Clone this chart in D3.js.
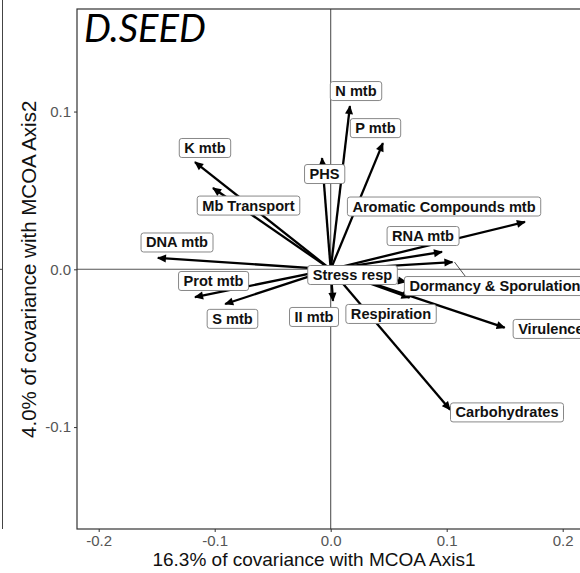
<!DOCTYPE html>
<html>
<head>
<meta charset="utf-8">
<script src="https://cdn.jsdelivr.net/npm/d3@7"></script>
<style>
  body { margin: 0; background: #fff; }
  svg { display: block; }
</style>
</head>
<body>
<div id="area"></div>
<script>
'use strict';

// variables (arrow tips, MCOA axis 1 / axis 2 covariance)
const variables = ['K mtb', 'Mb Transport', 'DNA mtb', 'Prot mtb', 'S mtb', 'II mtb',
  'Respiration', 'Carbohydrates', 'Virulence', 'Dormancy & Sporulation', 'RNA mtb',
  'Aromatic Compounds mtb', 'P mtb', 'N mtb', 'PHS', 'Stress resp'];
const axis1 = [-0.117, -0.1015, -0.149, -0.117, -0.091, 0.002,
  0.068, 0.103, 0.150, 0.105, 0.096,
  0.1675, 0.045, 0.0166, -0.0075, 0.065];
const axis2 = [0.068, 0.0515, 0.0072, -0.0176, -0.022, -0.020,
  -0.018, -0.089, -0.037, 0.0046, 0.011,
  0.030, 0.080, 0.1035, 0.0705, -0.008];

// tick labels
const xTicks = [-0.2, -0.1, 0, 0.1, 0.2];
const xTickLabels = ['-0.2', '-0.1', '0.0', '0.1', '0.2'];
const yTicks = [-0.1, 0, 0.1];
const yTickLabels = ['-0.1', '0.0', '0.1'];

const title = 'D.SEED';
const xTitle = '16.3% of covariance with MCOA Axis1';
const yTitle = '4.0% of covariance with MCOA Axis2';

// repelled label positions (data units), as placed in the original figure
const labelAt = [[-0.1084, 0.0769], [-0.0709, 0.0404], [-0.1325, 0.0170], [-0.1010, -0.0074],
  [-0.0847, -0.0314], [-0.0144, -0.0302], [0.0520, -0.0283], [0.1520, -0.0907],
  [0.1898, -0.0378], [0.1416, -0.0106], [0.0796, 0.0211], [0.0977, 0.0398],
  [0.0386, 0.0895], [0.0218, 0.1130], [-0.0053, 0.0604], [0.0188, -0.0036]];

const W = 580, H = 573;
const padL = 77, padT = 9, padB = 529;

const x = d3.scaleLinear().domain([-0.2187, 0.235]).range([padL, padL + 0.4537 * 1160]);
const y = d3.scaleLinear().domain([-0.1646, 0.165]).range([padB, padT]);

const svg = d3.select('#area').append('svg').attr('width', W).attr('height', H);

// edge of the neighbouring panel
svg.append('line').attr('x1', 2.5).attr('x2', 2.5).attr('y1', 0).attr('y2', padB)
  .attr('stroke', '#444').attr('stroke-width', 1);
svg.append('line').attr('x1', 0).attr('x2', 3).attr('y1', y(0)).attr('y2', y(0))
  .attr('stroke', '#444').attr('stroke-width', 1);

// zero lines
svg.append('line').attr('x1', x(0)).attr('x2', x(0)).attr('y1', padT).attr('y2', padB)
  .attr('stroke', '#555').attr('stroke-width', 1.1);
svg.append('line').attr('x1', padL).attr('x2', W + 20).attr('y1', y(0)).attr('y2', y(0))
  .attr('stroke', '#555').attr('stroke-width', 1.1);

// axes
const xAxis = svg.append('g').attr('transform', `translate(0,${padB})`)
  .call(d3.axisBottom(x).tickValues(xTicks).tickSize(3).tickPadding(3)
    .tickFormat((d, i) => xTickLabels[i]));
const yAxis = svg.append('g').attr('transform', `translate(${padL},0)`)
  .call(d3.axisLeft(y).tickValues(yTicks).tickSize(3).tickPadding(3)
    .tickFormat((d, i) => yTickLabels[i]));
[xAxis, yAxis].forEach(function (g) {
  g.select('.domain').remove();
  g.selectAll('.tick line').attr('stroke', '#333');
  g.selectAll('.tick text').attr('fill', '#555')
    .style('font-family', '"Liberation Sans", Arial, sans-serif').style('font-size', '15px');
});

// panel border
svg.append('rect').attr('x', padL).attr('y', padT)
  .attr('width', W + 40 - padL).attr('height', padB - padT)
  .attr('fill', 'none').attr('stroke', '#333').attr('stroke-width', 1.2);

// arrowhead
svg.append('defs').append('marker')
  .attr('id', 'head').attr('markerUnits', 'userSpaceOnUse')
  .attr('viewBox', '0 0 10 10').attr('refX', 9).attr('refY', 5)
  .attr('markerWidth', 10).attr('markerHeight', 9).attr('orient', 'auto')
  .append('path').attr('d', 'M0,0.5 L10,5 L0,9.5 Z').attr('fill', '#000');

const rows = variables.map((v, i) => ({ name: v, a1: axis1[i], a2: axis2[i], lx: labelAt[i][0], ly: labelAt[i][1] }));

svg.append('g').selectAll('line').data(rows).join('line')
  .attr('x1', x(0)).attr('y1', y(0))
  .attr('x2', d => x(d.a1)).attr('y2', d => y(d.a2))
  .attr('stroke', '#000').attr('stroke-width', 2.3)
  .attr('marker-end', 'url(#head)');

// labels
const lab = svg.append('g').selectAll('g').data(rows).join('g');
lab.append('text')
  .attr('x', d => x(d.lx)).attr('y', d => y(d.ly))
  .attr('text-anchor', 'middle').attr('dominant-baseline', 'central')
  .style('font-family', '"Liberation Sans", Arial, sans-serif')
  .style('font-weight', 'bold').style('font-size', '14.6px')
  .attr('fill', '#111')
  .text(d => d.name);

lab.each(function (d) {
  const g = d3.select(this);
  const b = g.select('text').node().getBBox();
  const bx = b.x - 5, by = y(d.ly) - 9.5, bw = b.width + 10, bh = 19;
  const tx = x(d.a1), ty = y(d.a2);
  // thin segment from the arrow tip to a label pushed away from it
  if (d.name === 'Dormancy & Sporulation') {
    g.insert('line', 'text').attr('x1', tx + 2).attr('y1', ty)
      .attr('x2', tx + 13).attr('y2', by).attr('stroke', '#222').attr('stroke-width', 0.8);
  }
  g.insert('rect', 'text').attr('x', bx).attr('y', by).attr('width', bw).attr('height', bh)
    .attr('rx', 2.5).attr('fill', '#fff').attr('stroke', '#7a7a7a').attr('stroke-width', 0.9);
});

// titles
svg.append('text').attr('x', 84).attr('y', 42)
  .style('font-family', 'Lato, "Open Sans", sans-serif').style('font-style', 'italic')
  .style('font-size', '38px').attr('fill', '#000').text(title);

svg.append('text').attr('x', 314).attr('y', 566).attr('text-anchor', 'middle')
  .style('font-family', '"Liberation Sans", Arial, sans-serif').style('font-size', '19px')
  .attr('fill', '#111').text(xTitle);

svg.append('text').attr('transform', `translate(36,${y(0)}) rotate(-90)`).attr('text-anchor', 'middle')
  .style('font-family', '"Liberation Sans", Arial, sans-serif').style('font-size', '20.5px')
  .attr('fill', '#111').text(yTitle);
</script>
</body>
</html>
